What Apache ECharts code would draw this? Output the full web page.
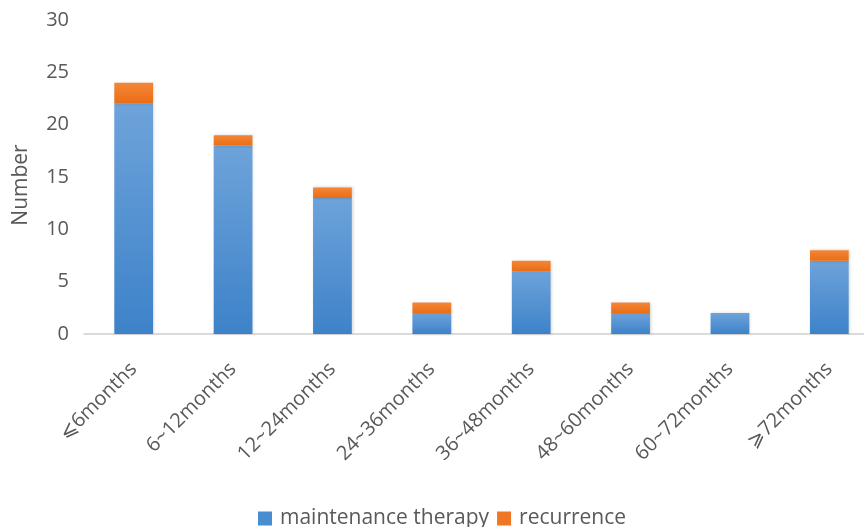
<!DOCTYPE html>
<html>
<head>
<meta charset="utf-8">
<script src="https://cdn.jsdelivr.net/npm/echarts@6/dist/echarts.min.js"></script>
<style>
  html, body { margin: 0; padding: 0; background: #fff; }
  #chart { width: 864px; height: 527px; }
</style>
</head>
<body>
<div id="chart"></div>
<script>
// Follow-up intervals and patient counts
const categories = ['⩽6months', '6~12months', '12~24months', '24~36months', '36~48months', '48~60months', '60~72months', '⩾72months'];
const maintenance = [22, 18, 13, 2, 6, 2, 2, 7];
const recurrence = [2, 1, 1, 1, 1, 1, 0, 1];
const yTicks = [0, 5, 10, 15, 20, 25, 30];

const FONT = '"Open Sans", "DejaVu Sans", sans-serif';
const TEXT = '#595959';

const blueGrad = new echarts.graphic.LinearGradient(0, 0, 0, 1, [
  { offset: 0, color: '#6ea3da' },
  { offset: 1, color: '#3d82c9' }
]);
const orangeGrad = new echarts.graphic.LinearGradient(0, 0, 0, 1, [
  { offset: 0, color: '#f48638' },
  { offset: 1, color: '#ea6d14' }
]);

const chart = echarts.init(document.getElementById('chart'), null, { renderer: 'canvas' });
chart.setOption({
  animation: false,
  textStyle: { fontFamily: FONT },
  legend: {
    top: 503,
    left: 253,
    itemWidth: 14,
    itemHeight: 14,
    itemGap: 8,
    icon: 'rect',
    textStyle: { color: TEXT, fontSize: 21, fontFamily: FONT, padding: [0, 0, 0, 3] },
    data: [
      { name: 'maintenance therapy', itemStyle: { color: '#4a8cd0' } },
      { name: 'recurrence', itemStyle: { color: '#ef7623' } }
    ]
  },
  grid: { left: 84, top: 20, width: 795, height: 314, outerBoundsMode: 'none', containLabel: false },
  xAxis: {
    type: 'category',
    data: categories,
    axisLine: { lineStyle: { color: '#d0d0d0', width: 1.5 } },
    axisTick: { show: false },
    axisLabel: {
      rotate: 45,
      interval: 0,
      margin: 32,
      color: TEXT,
      fontSize: 20,
      fontFamily: FONT
    }
  },
  yAxis: {
    type: 'value',
    min: yTicks[0],
    max: yTicks[yTicks.length - 1],
    interval: 5,
    name: 'Number',
    nameLocation: 'middle',
    nameGap: 52,
    nameTextStyle: { color: TEXT, fontSize: 21, fontFamily: FONT, padding: [0, 16, 0, 0] },
    axisLine: { show: false },
    axisTick: { show: false },
    splitLine: { show: false },
    axisLabel: { color: TEXT, fontSize: 20, margin: 15, fontFamily: FONT }
  },
  series: [
    {
      name: 'maintenance therapy',
      type: 'bar',
      stack: 'total',
      barWidth: '39%',
      data: maintenance,
      itemStyle: {
        color: blueGrad,
        shadowColor: 'rgba(0,0,0,0.18)',
        shadowBlur: 3,
        shadowOffsetX: 1
      }
    },
    {
      name: 'recurrence',
      type: 'bar',
      stack: 'total',
      barWidth: '39%',
      data: recurrence,
      itemStyle: {
        color: orangeGrad,
        shadowColor: 'rgba(0,0,0,0.18)',
        shadowBlur: 3,
        shadowOffsetX: 1
      }
    }
  ]
});
</script>
</body>
</html>
